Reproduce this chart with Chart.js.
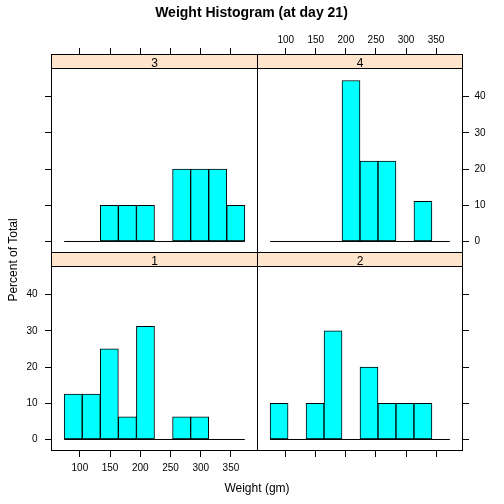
<!DOCTYPE html>
<html lang="en">
<head>
<meta charset="UTF-8">
<title>Weight Histogram (at day 21)</title>
<script src="https://cdn.jsdelivr.net/npm/chart.js"></script>
<style>
  body { margin: 0; background: white; }
  #wrap { position: relative; width: 504px; height: 504px; font-family: "Liberation Sans", Arial, sans-serif; color: black; }
  canvas { position: absolute; left: 0; top: 0; }
  .txt { position: absolute; white-space: nowrap; text-align: center; }
  #titulo { left: 0; width: 503px; top: 4.8px; font-size: 14px; line-height: 14px; font-weight: bold; }
  #xlab { left: 0; width: 514px; top: 481.5px; font-size: 12px; line-height: 12px; }
  #ylab { left: -87.2px; width: 200px; top: 253.5px; font-size: 12px; line-height: 12px; transform: rotate(-90deg); }
</style>
</head>
<body>
<div id="wrap">
  <canvas id="painel1" width="504" height="504"></canvas>
  <canvas id="painel2" width="504" height="504"></canvas>
  <canvas id="painel3" width="504" height="504"></canvas>
  <canvas id="painel4" width="504" height="504"></canvas>
  <div class="txt" id="titulo">Weight Histogram (at day 21)</div>
  <div class="txt" id="xlab">Weight (gm)</div>
  <div class="txt" id="ylab">Percent of Total</div>
</div>

<script>
    // bins of weight (gm) and percent of chicks in each bin, per diet
    const breaks = [74, 103.9, 133.8, 163.7, 193.6, 223.5, 253.4, 283.3, 313.2, 343.1, 373];
    const diet1 = [12.5, 12.5, 25, 6.25, 31.25, 0, 6.25, 6.25, 0, 0];
    const diet2 = [10, 0, 10, 30, 0, 20, 10, 10, 10, 0];
    const diet3 = [0, 0, 10, 10, 10, 0, 20, 20, 20, 10];
    const diet4 = [0, 0, 0, 0, 44.44, 22.22, 22.22, 0, 11.11, 0];
    const ticksX = [100, 150, 200, 250, 300, 350];
    const ticksY = [0, 10, 20, 30, 40];

    const FONTE = '"Liberation Sans", Arial, sans-serif';
    const X_MIN = 53.07, X_MAX = 393.93;
    const Y_MIN = -3.04, Y_TOP = 47.75;

    // layout of the 2x2 lattice (half pixels so 1px lines stay crisp)
    const colX = [51.5, 257.5, 462.5];
    const stripTop = [54.5, 252.5];
    const panelBottom = [252.5, 450.5];
    const STRIP_H = 14;
    const AXW = 40, AXH = 30;

    const moldura = {
        id: 'moldura',
        afterDraw(chart, args, opts) {
            const ctx = chart.ctx;
            const a = chart.chartArea;
            ctx.save();
            ctx.fillStyle = '#FFE5CC';
            ctx.fillRect(a.left, a.top, a.right - a.left, STRIP_H);
            ctx.strokeStyle = 'black';
            ctx.lineWidth = 1;
            ctx.strokeRect(a.left, a.top, a.right - a.left, STRIP_H);
            ctx.strokeRect(a.left, a.top + STRIP_H, a.right - a.left, a.bottom - a.top - STRIP_H);
            ctx.fillStyle = 'black';
            ctx.font = '12px ' + FONTE;
            ctx.textAlign = 'center';
            ctx.textBaseline = 'alphabetic';
            ctx.fillText(opts.texto, (a.left + a.right) / 2, a.top + STRIP_H - 2);
            ctx.restore();
        }
    };

    const paineis = [
        { id: 'painel1', texto: '1', dados: diet1, col: 0, row: 1, labels: true },
        { id: 'painel2', texto: '2', dados: diet2, col: 1, row: 1, labels: false },
        { id: 'painel3', texto: '3', dados: diet3, col: 0, row: 0, labels: false },
        { id: 'painel4', texto: '4', dados: diet4, col: 1, row: 0, labels: true }
    ];

    function criarPainel(p) {
        const left = colX[p.col], right = colX[p.col + 1];
        const top = stripTop[p.row], bottom = panelBottom[p.row];
        const pxPorUnidade = (bottom - top - STRIP_H) / (Y_TOP - Y_MIN);
        const yMax = Y_TOP + STRIP_H / pxPorUnidade;

        const padding = {
            left: p.col === 0 ? left - AXW : left,
            right: p.col === 0 ? 504 - right : 504 - right - AXW,
            top: p.row === 0 ? top - AXH : top,
            bottom: p.row === 0 ? 504 - bottom : 504 - bottom - AXH
        };

        const barras = p.dados.map((v, i) => ({ x: (breaks[i] + breaks[i + 1]) / 2, y: v }));

        new Chart(document.getElementById(p.id), {
            type: 'bar',
            data: {
                datasets: [{
                    type: 'bar',
                    data: barras,
                    backgroundColor: '#00FFFF',
                    borderColor: 'black',
                    borderWidth: 1,
                    borderSkipped: false,
                    barPercentage: 1,
                    categoryPercentage: 1
                }, {
                    type: 'line',
                    data: [{ x: breaks[0], y: 0 }, { x: breaks[breaks.length - 1], y: 0 }],
                    borderColor: 'black',
                    borderWidth: 1,
                    pointRadius: 0
                }]
            },
            options: {
                responsive: false,
                animation: false,
                events: [],
                layout: { padding: padding },
                plugins: {
                    legend: { display: false },
                    tooltip: { enabled: false },
                    moldura: { texto: p.texto }
                },
                scales: {
                    x: {
                        type: 'linear',
                        position: p.row === 0 ? 'top' : 'bottom',
                        min: X_MIN,
                        max: X_MAX,
                        offset: false,
                        afterBuildTicks: s => { s.ticks = ticksX.map(v => ({ value: v })); },
                        afterFit: s => { s.height = AXH; },
                        grid: { display: true, offset: false, drawOnChartArea: false, drawTicks: true, tickLength: 6.5, color: 'black', lineWidth: 1 },
                        border: { display: false },
                        ticks: {
                            display: p.labels,
                            color: 'black',
                            font: { family: FONTE, size: 10 },
                            padding: p.row === 0 ? 2 : 5,
                            maxRotation: 0,
                            autoSkip: false
                        }
                    },
                    y: {
                        type: 'linear',
                        position: p.col === 0 ? 'left' : 'right',
                        min: Y_MIN,
                        max: yMax,
                        afterBuildTicks: s => { s.ticks = ticksY.map(v => ({ value: v })); },
                        afterFit: s => { s.width = AXW; },
                        grid: { display: true, drawOnChartArea: false, drawTicks: true, tickLength: 6.5, color: 'black', lineWidth: 1 },
                        border: { display: false },
                        ticks: {
                            display: p.labels,
                            color: 'black',
                            font: { family: FONTE, size: 10 },
                            padding: p.col === 0 ? 7.5 : 5.5
                        }
                    }
                }
            },
            plugins: [moldura]
        });
    }

    paineis.forEach(criarPainel);
</script>
</body>
</html>
